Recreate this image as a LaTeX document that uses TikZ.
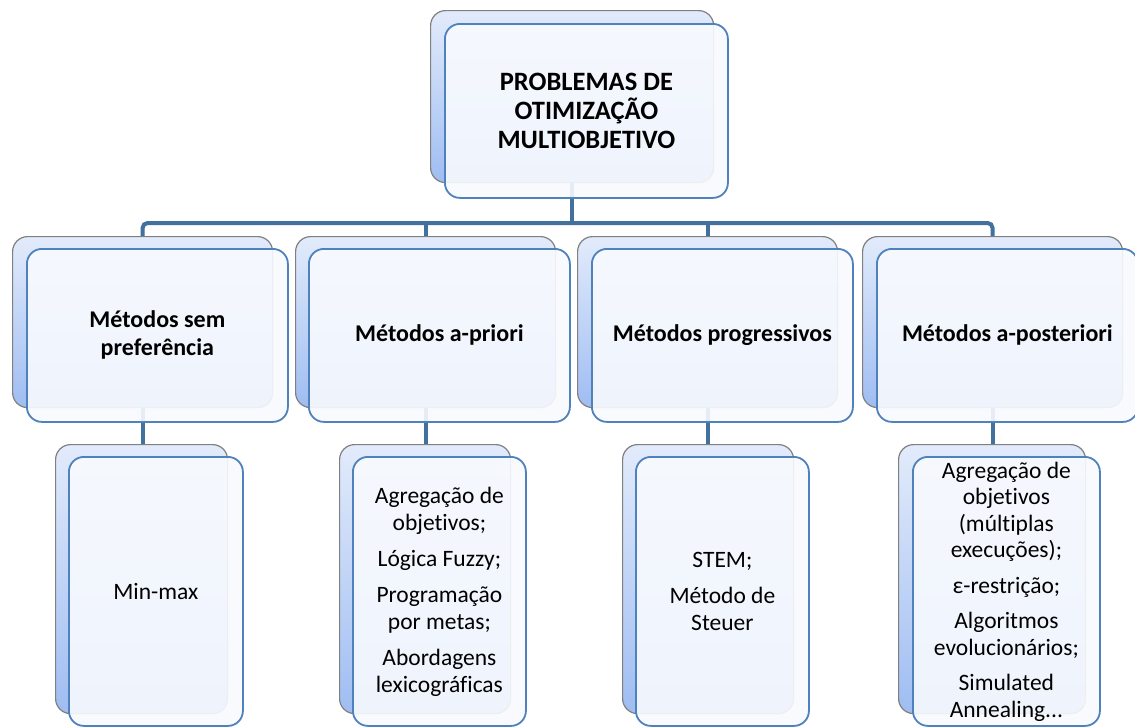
\documentclass[tikz,border=0pt]{standalone}
\usepackage{fontspec}
\setmainfont{Carlito}[Ligatures={NoCommon}]
\pgfdeclarelayer{bgzero}
\pgfdeclarelayer{bgone}
\pgfsetlayers{bgzero,bgone,main}
\definecolor{frontline}{HTML}{4F81BD}
\definecolor{backline}{HTML}{808080}
\definecolor{conncol}{HTML}{41719C}
\definecolor{backtop}{HTML}{E2EBFB}
\definecolor{backbot}{HTML}{9FBDF2}
\definecolor{frontfill}{HTML}{F8FAFE}
\tikzset{
  backbox/.style={rectangle, rounded corners=15pt, draw=backline, line width=1.2pt,
    top color=backtop, bottom color=backbot, anchor=north west, inner sep=0pt},
  frontbox/.style={rectangle, rounded corners=15pt, draw=frontline, line width=1.8pt,
    fill=frontfill, fill opacity=0.9, text opacity=1, draw opacity=1, anchor=north west,
    inner sep=0pt, align=center, text=black},
  conn/.style={draw=conncol, line width=4pt},
  toptext/.style={font=\fontsize{26.5}{29}\selectfont\bfseries},
  midtext/.style={font=\fontsize{24}{28}\selectfont\bfseries},
  lowtext/.style={font=\fontsize{23.5}{27}\selectfont},
}
\begin{document}
\begin{tikzpicture}[x=1pt,y=-1pt]
\begin{pgfonlayer}{bgzero}
  \fill[white] (0,0) rectangle (1135,726);
\end{pgfonlayer}
\useasboundingbox (0,0) rectangle (1135,726);

% top
\node[backbox, minimum width=283pt, minimum height=172pt] (tb) at (430,10) {};
\node[frontbox, toptext, minimum width=283pt, minimum height=174pt] (tf) at (444,23)
  {PROBLEMAS DE\\OTIMIZAÇÃO\\MULTIOBJETIVO};

% level 2
\node[backbox, minimum width=260pt, minimum height=171pt] (m1b) at (12,236) {};
\node[frontbox, midtext, minimum width=261pt, minimum height=173pt] (m1f) at (26,248)
  {Métodos sem\\preferência};
\node[backbox, minimum width=260pt, minimum height=171pt] (m2b) at (295,236) {};
\node[frontbox, midtext, minimum width=261pt, minimum height=173pt] (m2f) at (308,248)
  {Métodos a-priori};
\node[backbox, minimum width=260pt, minimum height=171pt] (m3b) at (577,236) {};
\node[frontbox, midtext, minimum width=261pt, minimum height=173pt] (m3f) at (591,248)
  {Métodos progressivos};
\node[backbox, minimum width=260pt, minimum height=171pt] (m4b) at (862,236) {};
\node[frontbox, midtext, minimum width=261pt, minimum height=173pt] (m4f) at (876,248)
  {Métodos a-posteriori};

% level 3
\node[backbox, minimum width=172pt, minimum height=269pt] (l1b) at (55,444) {};
\node[frontbox, lowtext, minimum width=174pt, minimum height=269pt] (l1f) at (68,456)
  {Min-max};
\node[backbox, minimum width=171pt, minimum height=269pt] (l2b) at (339,444) {};
\node[frontbox, lowtext, minimum width=173pt, minimum height=269pt] (l2f) at (352,456)
  {Agregação de\\objetivos;\\[9pt]Lógica Fuzzy;\\[9pt]Programação\\por metas;\\[9pt]Abordagens\\lexicográficas};
\node[backbox, minimum width=171pt, minimum height=269pt] (l3b) at (622,444) {};
\node[frontbox, lowtext, minimum width=173pt, minimum height=269pt] (l3f) at (635,456)
  {STEM;\\[9pt]Método de\\Steuer};
\node[backbox, minimum width=187pt, minimum height=269pt] (l4b) at (898,444) {};
\node[frontbox, font=\fontsize{23.5}{26.5}\selectfont, minimum width=187pt, minimum height=269pt] (l4f) at (912,456)
  {Agregação de\\objetivos\\(múltiplas\\execuções);\\[9pt]ε-restrição;\\[9pt]Algoritmos\\evolucionários;\\[9pt]Simulated\\Annealing...};

% connectors
\coordinate (bar) at (0,223);
\begin{pgfonlayer}{bgone}
  \draw[conn, rounded corners=5pt] (m1b.north) |- (bar -| m4b.north) -- (m4b.north);
  \draw[conn] (tb.south) -- (tb.south |- bar);
  \draw[conn] (m2b.north) -- (m2b.north |- bar);
  \draw[conn] (m3b.north) -- (m3b.north |- bar);
  \draw[conn] (m1b.south) -- (m1b.south |- l1b.north);
  \draw[conn] (m2b.south) -- (m2b.south |- l2b.north);
  \draw[conn] (m3b.south) -- (m3b.south |- l3b.north);
  \draw[conn] (m4b.south) -- (m4b.south |- l4b.north);
\end{pgfonlayer}
\end{tikzpicture}
\end{document}
